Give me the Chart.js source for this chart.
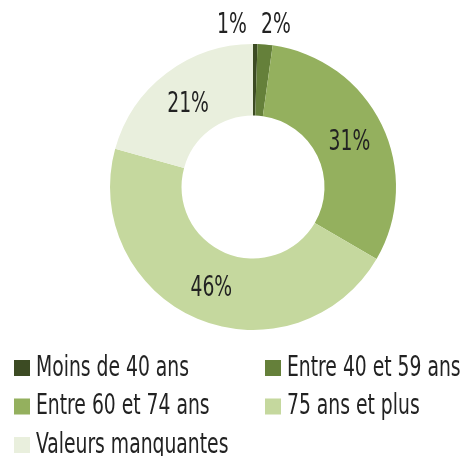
<!DOCTYPE html>
<html>
<head>
<meta charset="utf-8">
<script src="https://cdn.jsdelivr.net/npm/chart.js@4/dist/chart.umd.min.js"></script>
<style>
html,body{margin:0;padding:0;background:#fff;}
canvas{display:block;}
</style>
</head>
<body>
<canvas id="c" width="471" height="456"></canvas>
<script>
const categories = ['Moins de 40 ans', 'Entre 40 et 59 ans', 'Entre 60 et 74 ans', '75 ans et plus', 'Valeurs manquantes'];
const values = [0.5, 1.7, 31.2, 45.9, 20.7];
const valueLabels = ['1%', '2%', '31%', '46%', '21%'];
const colors = ['#3c4b23', '#65803a', '#94b05e', '#c5d89e', '#e9efdd'];

const FONT_SIZE = 28;
const FONT_FAMILY = '"Liberation Sans Narrow", "DejaVu Sans Condensed", "Liberation Sans", sans-serif';
const TEXT_COLOR = '#222222';

function setFont(ctx) {
  ctx.font = FONT_SIZE + 'px ' + FONT_FAMILY;
}

function hScale(ctx) {
  setFont(ctx);
  return 153 / ctx.measureText('Moins de 40 ans').width;
}

function drawText(ctx, text, x, y, sx, align) {
  ctx.save();
  ctx.translate(x, y);
  ctx.scale(sx, 1);
  ctx.textAlign = align;
  ctx.fillText(text, 0, 0);
  ctx.restore();
}

const labelPlugin = {
  id: 'labelPlugin',
  afterDraw(chart) {
    const ctx = chart.ctx;
    const sx = hScale(ctx);
    ctx.save();
    ctx.fillStyle = TEXT_COLOR;
    setFont(ctx);
    ctx.textBaseline = 'alphabetic';
    const meta = chart.getDatasetMeta(0);
    let small = 0;
    meta.data.forEach((arc, i) => {
      const p = arc.getProps(['x', 'y', 'startAngle', 'endAngle', 'innerRadius', 'outerRadius'], true);
      const mid = (p.startAngle + p.endAngle) / 2;
      if (values[i] < 3) {
        const x = p.x + (small === 0 ? -21 : 23);
        const y = p.y - p.outerRadius - 11;
        drawText(ctx, valueLabels[i], x, y, sx, 'center');
        small++;
      } else {
        const r = (p.innerRadius + p.outerRadius) / 2;
        const x = p.x + Math.cos(mid) * r;
        const y = p.y + Math.sin(mid) * r + 10;
        drawText(ctx, valueLabels[i], x, y, sx, 'center');
      }
    });
    // legend
    const colX = [14, 265];
    const rowY = [360, 398.5, 437];
    categories.forEach((cat, i) => {
      const col = i % 2, row = Math.floor(i / 2);
      const bx = colX[col], by = rowY[row];
      ctx.fillStyle = colors[i];
      ctx.fillRect(bx, by, 16, 16);
      ctx.fillStyle = TEXT_COLOR;
      drawText(ctx, cat, bx + 22, by + 15.5, sx, 'left');
    });
    ctx.restore();
  }
};

new Chart(document.getElementById('c'), {
  type: 'doughnut',
  data: {
    labels: categories,
    datasets: [{
      data: values,
      backgroundColor: colors,
      borderWidth: 0,
      hoverOffset: 0
    }]
  },
  options: {
    responsive: false,
    devicePixelRatio: 1,
    animation: false,
    cutout: '50%',
    layout: { padding: { left: 110, right: 75, top: 44, bottom: 126 } },
    plugins: {
      legend: { display: false },
      tooltip: { enabled: false }
    }
  },
  plugins: [labelPlugin]
});
</script>
</body>
</html>
